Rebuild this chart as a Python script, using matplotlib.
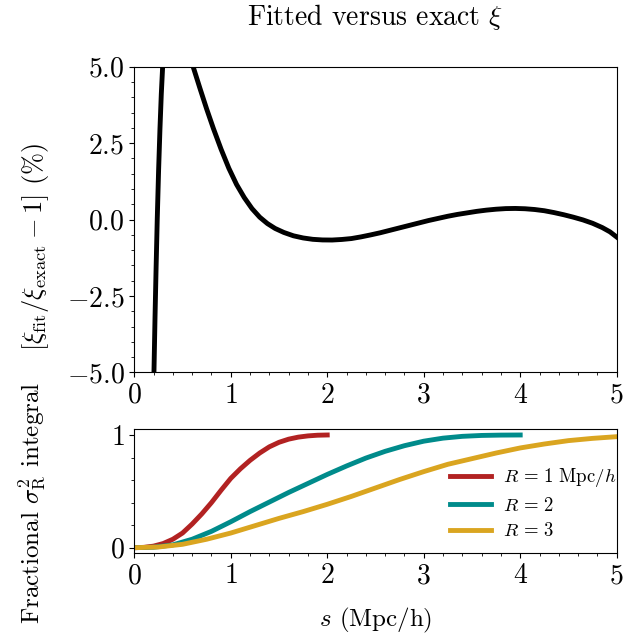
import numpy as np
import matplotlib
matplotlib.use("Agg")
import matplotlib.pyplot as plt

plt.rcParams['font.family'] = 'serif'
plt.rcParams['font.serif'] = ['cmr10']
plt.rcParams['mathtext.fontset'] = 'cm'
plt.rcParams['axes.formatter.use_mathtext'] = True
plt.rcParams['xtick.minor.visible'] = True
plt.rcParams['ytick.minor.visible'] = True

# ---- top panel: residual of fitted vs exact xi (%) ----
s_top = [0.190, 0.196, 0.204, 0.215, 0.226, 0.238, 0.252, 0.266, 0.280, 0.294,
         0.310, 0.330, 0.40, 0.50, 0.57, 0.61, 0.68, 0.75, 0.82, 0.90,
         0.98, 1.06, 1.14, 1.22, 1.30, 1.38, 1.46, 1.55, 1.65, 1.75,
         1.85, 1.95, 2.05, 2.15, 2.25, 2.35, 2.45, 2.55, 2.65, 2.75,
         2.85, 2.95, 3.05, 3.15, 3.25, 3.35, 3.45, 3.55, 3.65, 3.75,
         3.85, 3.95, 4.05, 4.15, 4.25, 4.35, 4.45, 4.55, 4.65, 4.75,
         4.85, 4.93, 5.00]
resid_top = [-7.4, -6.3, -5.0, -3.2, -1.6, 0.0, 1.6, 2.95, 4.1, 5.0,
             5.9, 6.9, 9.0, 8.2, 6.2, 5.0, 4.3, 3.62, 2.98, 2.30,
             1.68, 1.15, 0.72, 0.36, 0.08, -0.13, -0.29, -0.42, -0.53, -0.60,
             -0.645, -0.665, -0.668, -0.65, -0.62, -0.565, -0.50, -0.43, -0.35, -0.27,
             -0.19, -0.11, -0.03, 0.04, 0.11, 0.17, 0.22, 0.27, 0.31, 0.34,
             0.36, 0.365, 0.355, 0.33, 0.29, 0.23, 0.16, 0.08, -0.01, -0.12,
             -0.26, -0.40, -0.57]

# ---- bottom panel: fractional sigma^2_R integral ----
s_r1 = [0.0, 0.1, 0.2, 0.3, 0.4, 0.5, 0.6, 0.7, 0.8, 0.9, 1.0,
        1.1, 1.2, 1.3, 1.4, 1.5, 1.6, 1.7, 1.8, 1.9, 2.0]
f_r1 = [0.0, 0.003, 0.014, 0.037, 0.075, 0.13, 0.21, 0.30, 0.40, 0.51, 0.615,
        0.70, 0.775, 0.84, 0.895, 0.935, 0.963, 0.981, 0.992, 0.998, 1.0]

s_r2 = [0.0, 0.2, 0.4, 0.6, 0.8, 1.0, 1.2, 1.4, 1.6, 1.8, 2.0,
        2.2, 2.4, 2.6, 2.8, 3.0, 3.2, 3.4, 3.6, 3.8, 4.0]
f_r2 = [0.0, 0.004, 0.025, 0.075, 0.145, 0.23, 0.32, 0.405, 0.49, 0.57, 0.65,
        0.725, 0.795, 0.855, 0.905, 0.945, 0.972, 0.988, 0.996, 0.999, 1.0]

s_r3 = [0.0, 0.25, 0.5, 0.75, 1.0, 1.25, 1.5, 1.75, 2.0, 2.25, 2.5,
        2.75, 3.0, 3.25, 3.5, 3.75, 4.0, 4.25, 4.5, 4.75, 5.0]
f_r3 = [0.0, 0.006, 0.03, 0.075, 0.13, 0.195, 0.26, 0.32, 0.385, 0.455, 0.53,
        0.605, 0.675, 0.74, 0.79, 0.84, 0.885, 0.92, 0.95, 0.97, 0.985]

labels = [r"$R\,=\,1\ \mathrm{Mpc}/h$", r"$R\,=\,2$", r"$R\,=\,3$"]
colors = ["#B22222", "#008B8B", "#DAA520"]

fig = plt.figure(figsize=(6.4, 6.44), dpi=100)
ax1 = fig.add_axes([0.2098, 0.4216, 0.7538, 0.4748])
ax2 = fig.add_axes([0.2098, 0.1408, 0.7538, 0.1925])

ax1.plot(s_top, resid_top, color='black', lw=3.5)
ax1.set_xlim(0, 5)
ax1.set_ylim(-5, 5)
ax1.set_yticks([-5, -2.5, 0, 2.5, 5])
ax1.set_xticks([0, 1, 2, 3, 4, 5])
ax1.set_ylabel(r"$[\xi_\mathrm{fit}/\xi_\mathrm{exact} - 1]$ (%)", fontsize=19)
ax1.yaxis.set_label_coords(-0.172, 0.41)
ax1.set_title(r"Fitted versus exact $\xi$", fontsize=20, pad=30)

for ss, ff, lab, c in zip([s_r1, s_r2, s_r3], [f_r1, f_r2, f_r3], labels, colors):
    ax2.plot(ss, ff, color=c, lw=3.5, label=lab)
ax2.set_xlim(0, 5)
ax2.set_yticks([0, 1])
ax2.set_xticks([0, 1, 2, 3, 4, 5])
ax2.set_xlabel(r"$s$ (Mpc/h)", fontsize=18, labelpad=12)
ax2.set_ylabel(r"Fractional $\sigma^2_\mathrm{R}$ integral", fontsize=18)
ax2.yaxis.set_label_coords(-0.178, 0.405)
ax2.legend(loc='lower right', frameon=False, fontsize=13.5, handlelength=2.2,
           handletextpad=0.65, labelspacing=0.4, bbox_to_anchor=(1.035, -0.03))

for ax in (ax1, ax2):
    ax.tick_params(labelsize=20)

fig.savefig("out.png", dpi=100)
